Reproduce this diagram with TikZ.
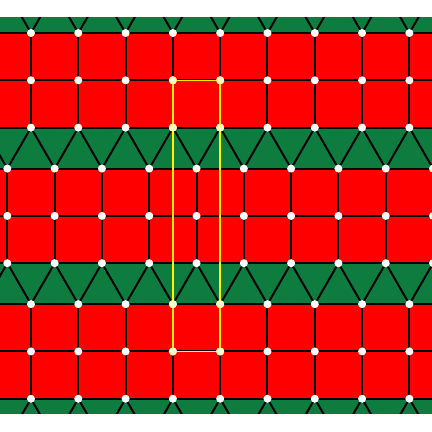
\documentclass[tikz,border=0pt]{standalone}
\usepackage{tikz}
\usetikzlibrary{positioning}
\definecolor{tilered}{RGB}{255,0,0}
\definecolor{tilegreen}{RGB}{14,124,62}

\begin{document}
\begin{tikzpicture}[
    edge/.style={black, line width=1.2pt},
    vert/.style={fill=white, draw=none},
    cellmark/.style={fill=yellow!25!white, draw=none},
    cellbox/.style={draw=yellow, line width=0.9pt}
]
% Tiling: square side = 1cm, triangle height = 0.866cm
% rows A start at x=0.655, rows B start at x=0.155 (half a side shifted)
\def\r{0.085}  % vertex dot radius
\def\xa{0.655}
\def\xb{0.155}

% picture frame (white margin above and below)
\useasboundingbox (0,0) rectangle (9.133,-9.133);

\begin{scope}
\clip (0,-0.36) rectangle (9.133,-8.75);

% Bands: green behind everything, red square bands on top
\fill[tilegreen] (0,-0.36) rectangle (9.133,-8.75);
\fill[tilered]   (0,-0.698) rectangle (9.133,-2.698);
\fill[tilered]   (0,-3.564) rectangle (9.133,-5.564);
\fill[tilered]   (0,-6.430) rectangle (9.133,-8.430);

% Horizontal edges
\foreach \y in {-0.698,-1.698,-2.698,-3.564,-4.564,-5.564,-6.430,-7.430,-8.430} {
  \draw[edge] (0,\y) -- (9.133,\y);
}

% Vertical edges of the square bands
\foreach \ytop/\ybot/\x in {-0.698/-2.698/\xa, -3.564/-5.564/\xb, -6.430/-8.430/\xa} {
  \foreach \k in {-1,...,9} {
    \draw[edge] (\x+\k,\ytop) -- (\x+\k,\ybot);
  }
}

% Triangle bands: zigzag from row A to row B
\foreach \ya/\yb in {-0.698/0.168, -2.698/-3.564, -6.430/-5.564, -8.430/-9.296} {
  \foreach \k in {-1,...,9} {
    \draw[edge] (\xb+\k,\yb) -- (\xa+\k,\ya) -- (\xb+\k+1,\yb);
  }
}

% Vertex dots
\foreach \y/\x in {-0.698/\xa, -1.698/\xa, -2.698/\xa, -3.564/\xb, -4.564/\xb,
                   -5.564/\xb, -6.430/\xa, -7.430/\xa, -8.430/\xa} {
  \foreach \k in {-1,...,9} {
    \fill[vert] (\x+\k,\y) circle (\r);
  }
}
\end{scope}

% Highlighted cell
\draw[cellbox] (\xa+3,-1.698) rectangle (\xa+4,-7.430);
\foreach \y in {-1.698,-2.698,-6.430,-7.430} {
  \fill[cellmark] (\xa+3,\y) circle (\r);
  \fill[cellmark] (\xa+4,\y) circle (\r);
}
\end{tikzpicture}
\end{document}
